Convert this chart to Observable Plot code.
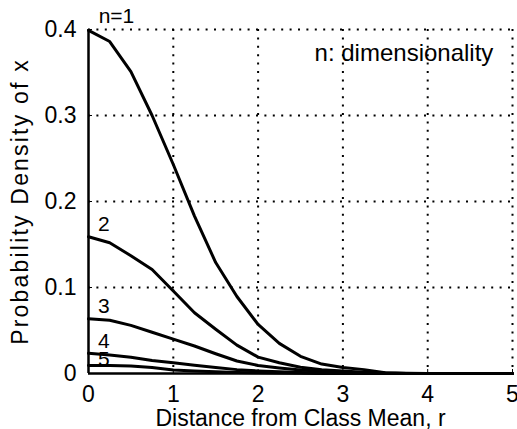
<!DOCTYPE html>
<html>
<head>
<meta charset="utf-8">
<script src="https://cdn.jsdelivr.net/npm/d3@7"></script>
<script src="https://cdn.jsdelivr.net/npm/@observablehq/plot@0.6"></script>
<style>
  html, body { margin: 0; padding: 0; background: #fff; }
  g[aria-label="y-axis label"] text { letter-spacing: 2.2px; }
</style>
</head>
<body>
<div id="chart"></div>
<script>
// Distance from class mean (r)
const r = [0, 0.25, 0.5, 0.75, 1.0, 1.25, 1.5, 1.75, 2.0, 2.25, 2.5, 2.75, 3.0, 3.25, 3.5, 3.75, 4.0, 4.25, 4.5, 4.75, 5.0];
// Probability density for each dimensionality n
const n1 = [0.399, 0.386, 0.351, 0.300, 0.243, 0.183, 0.129, 0.0895, 0.057, 0.035, 0.020, 0.011, 0.007, 0.0045, 0.001, 0.0003, 0, 0, 0, 0, 0];
const n2 = [0.159, 0.152, 0.137, 0.121, 0.096, 0.0706, 0.0515, 0.033, 0.019, 0.0125, 0.0073, 0.0045, 0.003, 0.0015, 0.0005, 0, 0, 0, 0, 0, 0];
const n3 = [0.0636, 0.062, 0.056, 0.048, 0.040, 0.032, 0.023, 0.0145, 0.0093, 0.0065, 0.004, 0.0025, 0.0015, 0.0007, 0, 0, 0, 0, 0, 0, 0];
const n4 = [0.0235, 0.0215, 0.019, 0.015, 0.0125, 0.0095, 0.007, 0.0045, 0.003, 0.002, 0.0012, 0.0006, 0.0003, 0, 0, 0, 0, 0, 0, 0, 0];
const n5 = [0.0093, 0.0092, 0.0087, 0.007, 0.0042, 0.003, 0.002, 0.0012, 0.0008, 0.0005, 0.0003, 0.0001, 0, 0, 0, 0, 0, 0, 0, 0, 0];
const seriesNames = ["n=1", "2", "3", "4", "5"];
// Curve label anchors (data coordinates)
const labelR = [0.33, 0.18, 0.18, 0.18, 0.18];
const labelP = [0.415, 0.173, 0.078, 0.0375, 0.0165];
const xTicks = [0, 1, 2, 3, 4, 5];
const yTicks = [0, 0.1, 0.2, 0.3, 0.4];
const xGrid = [1, 2, 3, 4, 5];
const yGrid = [0.1, 0.2, 0.3, 0.4];
const annotation = "n: dimensionality";
const xLabel = "Distance from Class Mean, r";
const yLabel = "Probability Density of x";

const allSeries = [n1, n2, n3, n4, n5];
const data = allSeries.flatMap((vals, i) => vals.map((v, j) => ({r: r[j], p: v, n: seriesNames[i]})));
const labels = seriesNames.map((s, i) => ({r: labelR[i], p: labelP[i], text: s}));

const chart = Plot.plot({
  width: 517,
  height: 429,
  marginLeft: 88,
  marginRight: 5,
  marginTop: 29,
  marginBottom: 56,
  style: {fontFamily: "'Liberation Sans', Arial, sans-serif", fontSize: "23px", color: "#000", background: "#fff"},
  x: {domain: [0, 5], ticks: xTicks, tickFormat: d => String(d), tickSize: -4, tickPadding: 16,
      label: xLabel, labelAnchor: "center", labelArrow: "none", labelOffset: 52},
  y: {domain: [0, 0.4], ticks: yTicks, tickFormat: d => String(d), tickSize: -4, tickPadding: 16,
      label: yLabel, labelAnchor: "center", labelArrow: "none", labelOffset: 77},
  marks: [
    Plot.ruleX(xGrid, {stroke: "#000", strokeWidth: 2, strokeDasharray: "2,6.4"}),
    Plot.ruleY(yGrid, {stroke: "#000", strokeWidth: 2, strokeDasharray: "2,6.4"}),
    Plot.ruleX([0], {stroke: "#000", strokeWidth: 2.5}),
    Plot.ruleY([0], {stroke: "#000", strokeWidth: 2.5}),
    Plot.line(data, {x: "r", y: "p", z: "n", stroke: "#000", strokeWidth: 3, curve: "linear"}),
    Plot.text(labels, {x: "r", y: "p", text: "text", fontSize: 21, fill: "#000"}),
    Plot.text([annotation], {x: 3.72, y: 0.372, text: d => d, fontSize: 24, fill: "#000"})
  ]
});
document.getElementById("chart").appendChild(chart);
</script>
</body>
</html>
